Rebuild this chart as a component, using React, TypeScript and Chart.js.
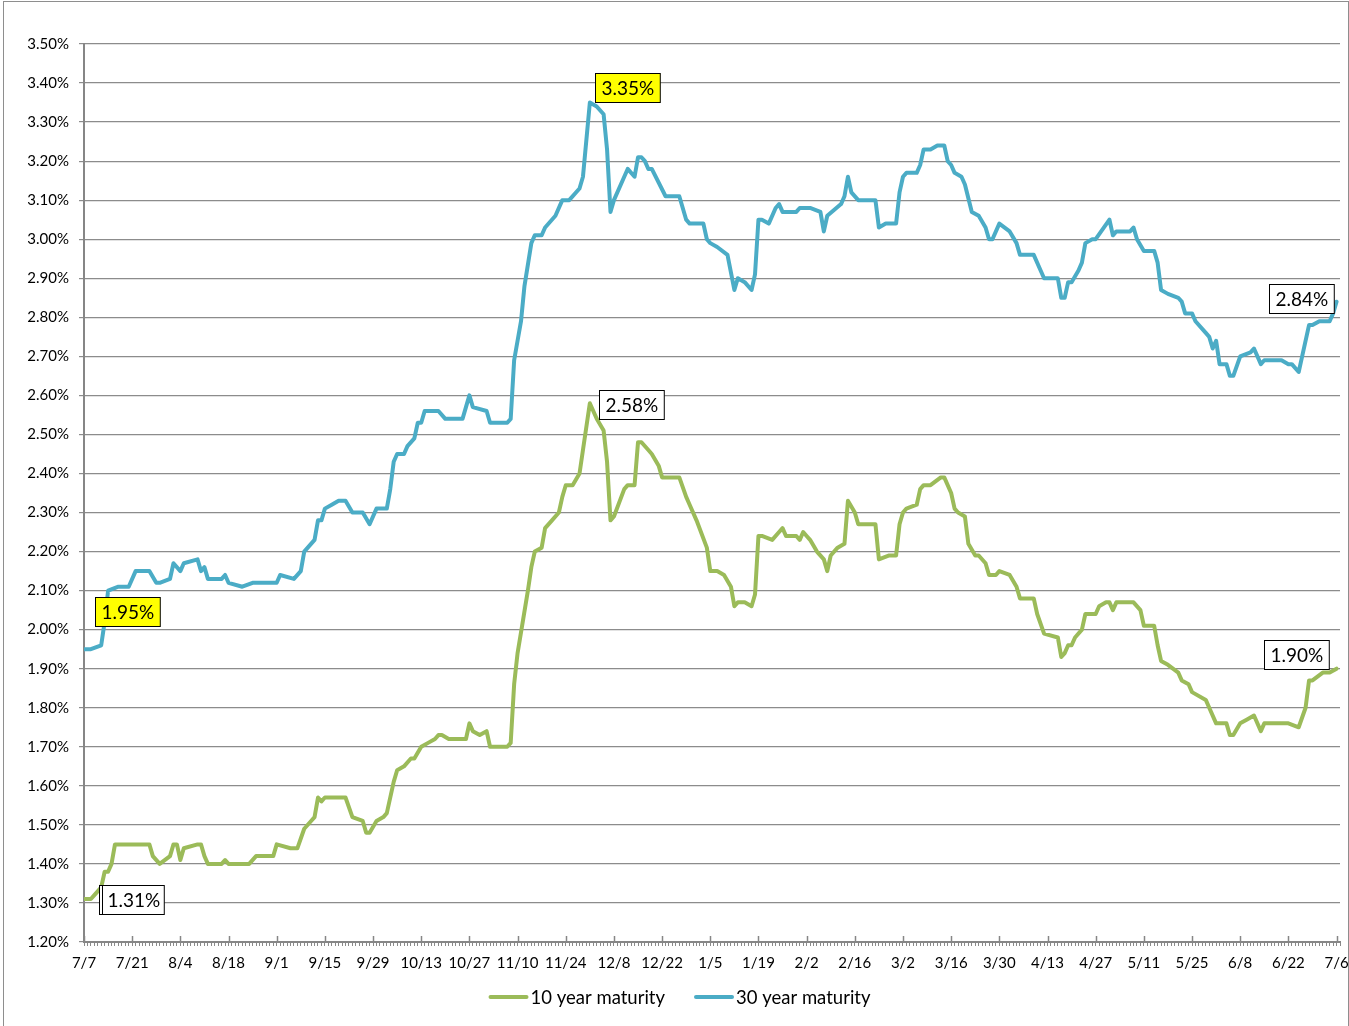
import React, { useEffect, useRef } from 'react';
import { Chart, registerables } from 'chart.js';

Chart.register(...registerables);

// x axis: day index from 7/7; major label every 14 days
const xTickLabels = ['7/7', '7/21', '8/4', '8/18', '9/1', '9/15', '9/29', '10/13', '10/27', '11/10', '11/24', '12/8', '12/22', '1/5', '1/19', '2/2', '2/16', '3/2', '3/16', '3/30', '4/13', '4/27', '5/11', '5/25', '6/8', '6/22', '7/6'];
const yTickValues = [1.2, 1.3, 1.4, 1.5, 1.6, 1.7, 1.8, 1.9, 2.0, 2.1, 2.2, 2.3, 2.4, 2.5, 2.6, 2.7, 2.8, 2.9, 3.0, 3.1, 3.2, 3.3, 3.4, 3.5];

const days10 = [0, 2, 3, 5, 6, 7, 8, 9, 19, 20, 22, 25, 26, 27, 28, 29, 33, 34, 35, 36, 40, 41, 42, 48, 50, 55, 56, 60, 62, 64, 66, 67, 68, 69, 70, 76, 78, 81, 82, 83, 85, 87, 88, 90, 91, 93, 95, 96, 98, 100, 102, 103, 104, 106, 111, 112, 113, 115, 117, 118, 123, 124, 125, 126, 129, 130, 131, 133, 134, 136, 138, 139, 140, 142, 144, 145, 147, 149, 151, 152, 153, 154, 157, 158, 160, 161, 162, 164, 165, 167, 168, 173, 175, 176, 178, 181, 182, 184, 186, 188, 189, 190, 192, 194, 195, 196, 197, 200, 202, 203, 204, 207, 208, 209, 210, 211, 213, 215, 216, 217, 219, 221, 222, 224, 225, 230, 231, 234, 236, 237, 238, 239, 242, 243, 244, 246, 249, 250, 252, 253, 254, 256, 257, 259, 260, 262, 263, 265, 266, 269, 271, 272, 276, 277, 279, 283, 284, 285, 286, 287, 288, 290, 291, 294, 295, 297, 298, 299, 300, 305, 307, 308, 311, 312, 313, 315, 318, 319, 321, 322, 326, 327, 329, 332, 333, 334, 336, 338, 340, 342, 343, 350, 353, 355, 356, 357, 360, 362, 364];
const vals10 = [1.31, 1.31, 1.32, 1.34, 1.38, 1.38, 1.40, 1.45, 1.45, 1.42, 1.40, 1.42, 1.45, 1.45, 1.41, 1.44, 1.45, 1.45, 1.42, 1.40, 1.40, 1.41, 1.40, 1.40, 1.42, 1.42, 1.45, 1.44, 1.44, 1.49, 1.51, 1.52, 1.57, 1.56, 1.57, 1.57, 1.52, 1.51, 1.48, 1.48, 1.51, 1.52, 1.53, 1.61, 1.64, 1.65, 1.67, 1.67, 1.70, 1.71, 1.72, 1.73, 1.73, 1.72, 1.72, 1.76, 1.74, 1.73, 1.74, 1.70, 1.70, 1.71, 1.86, 1.94, 2.10, 2.16, 2.20, 2.21, 2.26, 2.28, 2.30, 2.34, 2.37, 2.37, 2.40, 2.46, 2.58, 2.54, 2.51, 2.43, 2.28, 2.29, 2.36, 2.37, 2.37, 2.48, 2.48, 2.46, 2.45, 2.42, 2.39, 2.39, 2.34, 2.32, 2.28, 2.21, 2.15, 2.15, 2.14, 2.11, 2.06, 2.07, 2.07, 2.06, 2.09, 2.24, 2.24, 2.23, 2.25, 2.26, 2.24, 2.24, 2.23, 2.25, 2.24, 2.23, 2.20, 2.18, 2.15, 2.19, 2.21, 2.22, 2.33, 2.30, 2.27, 2.27, 2.18, 2.19, 2.19, 2.27, 2.30, 2.31, 2.32, 2.36, 2.37, 2.37, 2.39, 2.39, 2.35, 2.31, 2.30, 2.29, 2.22, 2.19, 2.19, 2.17, 2.14, 2.14, 2.15, 2.14, 2.11, 2.08, 2.08, 2.04, 1.99, 1.98, 1.93, 1.94, 1.96, 1.96, 1.98, 2.00, 2.04, 2.04, 2.06, 2.07, 2.07, 2.05, 2.07, 2.07, 2.05, 2.01, 2.01, 1.96, 1.92, 1.91, 1.89, 1.87, 1.86, 1.84, 1.82, 1.80, 1.76, 1.76, 1.73, 1.73, 1.76, 1.77, 1.78, 1.74, 1.76, 1.76, 1.75, 1.80, 1.87, 1.87, 1.89, 1.89, 1.90];

const days30 = [0, 2, 5, 6, 7, 10, 13, 15, 19, 21, 22, 25, 26, 28, 29, 33, 34, 35, 36, 40, 41, 42, 46, 49, 56, 57, 61, 63, 64, 67, 68, 69, 70, 72, 74, 76, 78, 81, 83, 85, 88, 89, 90, 91, 93, 94, 96, 97, 98, 99, 103, 105, 110, 111, 112, 113, 117, 118, 123, 124, 125, 127, 128, 130, 131, 133, 134, 137, 139, 141, 144, 145, 147, 149, 151, 152, 153, 154, 157, 158, 160, 161, 162, 163, 164, 165, 169, 173, 175, 176, 180, 181, 182, 184, 187, 189, 190, 192, 194, 195, 196, 197, 199, 201, 202, 203, 207, 208, 211, 214, 215, 216, 220, 221, 222, 223, 225, 230, 231, 233, 236, 237, 238, 239, 242, 243, 244, 246, 248, 250, 251, 252, 253, 255, 256, 258, 260, 262, 263, 264, 266, 269, 271, 272, 276, 278, 279, 283, 284, 285, 286, 287, 289, 290, 291, 293, 294, 298, 299, 300, 304, 305, 306, 308, 311, 312, 313, 315, 318, 319, 320, 322, 323, 326, 327, 328, 329, 330, 332, 333, 334, 336, 339, 340, 342, 343, 348, 350, 351, 353, 354, 356, 357, 359, 362, 363, 364];
const vals30 = [1.95, 1.95, 1.96, 2.02, 2.10, 2.11, 2.11, 2.15, 2.15, 2.12, 2.12, 2.13, 2.17, 2.15, 2.17, 2.18, 2.15, 2.16, 2.13, 2.13, 2.14, 2.12, 2.11, 2.12, 2.12, 2.14, 2.13, 2.15, 2.20, 2.23, 2.28, 2.28, 2.31, 2.32, 2.33, 2.33, 2.30, 2.30, 2.27, 2.31, 2.31, 2.36, 2.43, 2.45, 2.45, 2.47, 2.49, 2.53, 2.53, 2.56, 2.56, 2.54, 2.54, 2.57, 2.60, 2.57, 2.56, 2.53, 2.53, 2.54, 2.69, 2.79, 2.88, 2.99, 3.01, 3.01, 3.03, 3.06, 3.10, 3.10, 3.13, 3.16, 3.35, 3.34, 3.32, 3.23, 3.07, 3.10, 3.16, 3.18, 3.16, 3.21, 3.21, 3.20, 3.18, 3.18, 3.11, 3.11, 3.05, 3.04, 3.04, 3.00, 2.99, 2.98, 2.96, 2.87, 2.90, 2.89, 2.87, 2.91, 3.05, 3.05, 3.04, 3.08, 3.09, 3.07, 3.07, 3.08, 3.08, 3.07, 3.02, 3.06, 3.09, 3.11, 3.16, 3.12, 3.10, 3.10, 3.03, 3.04, 3.04, 3.12, 3.16, 3.17, 3.17, 3.19, 3.23, 3.23, 3.24, 3.24, 3.20, 3.19, 3.17, 3.16, 3.14, 3.07, 3.06, 3.03, 3.00, 3.00, 3.04, 3.02, 2.99, 2.96, 2.96, 2.92, 2.90, 2.90, 2.85, 2.85, 2.89, 2.89, 2.92, 2.94, 2.99, 3.00, 3.00, 3.05, 3.01, 3.02, 3.02, 3.03, 3.00, 2.97, 2.97, 2.94, 2.87, 2.86, 2.85, 2.84, 2.81, 2.81, 2.79, 2.76, 2.75, 2.72, 2.74, 2.68, 2.68, 2.65, 2.65, 2.70, 2.71, 2.72, 2.68, 2.69, 2.69, 2.68, 2.68, 2.66, 2.70, 2.78, 2.78, 2.79, 2.79, 2.81, 2.84];

const seriesNames = ['10 year maturity', '30 year maturity'];
const GREEN = '#9BBB59';
const BLUE = '#4BACC6';
const FONT = 'Lato, "Liberation Sans", sans-serif';

// callouts: dataset index, point index ('last' = final), offset, background
const callouts = [
  { ds: 1, idx: 'first', dx: 43, dy: -38, bg: '#FFFF00', doubleLeft: false },
  { ds: 0, idx: 'first', dx: 47, dy: 0, bg: '#FFFFFF', doubleLeft: true },
  { ds: 1, idx: 'max', dx: 38, dy: -15, bg: '#FFFF00', doubleLeft: false },
  { ds: 0, idx: 'max', dx: 42, dy: 1, bg: '#FFFFFF', doubleLeft: false },
  { ds: 1, idx: 'last', dx: -35, dy: -3, bg: '#FFFFFF', doubleLeft: false },
  { ds: 0, idx: 'last', dx: -40, dy: -14, bg: '#FFFFFF', doubleLeft: false },
];

const extrasPlugin = {
  id: 'extras',
  afterDatasetsDraw(chart: any) {
    const ctx = chart.ctx;
    const area = chart.chartArea;
    const xs = chart.scales.x;
    // major tick marks pointing up inside plot
    ctx.save();
    ctx.strokeStyle = '#868686';
    ctx.lineWidth = 1.5;
    xTickLabels.forEach((_, i) => {
      const px = Math.round(xs.getPixelForValue(i * 14)) + 0.5;
      ctx.beginPath();
      ctx.moveTo(px, area.bottom);
      ctx.lineTo(px, area.bottom - 6);
      ctx.stroke();
    });
    ctx.restore();

    // callouts
    ctx.save();
    ctx.font = `19px ${FONT}`;
    callouts.forEach((c) => {
      const meta = chart.getDatasetMeta(c.ds);
      const vals = chart.data.datasets[c.ds].data.map((p: any) => p.y);
      let i = 0;
      if (c.idx === 'last') i = vals.length - 1;
      else if (c.idx === 'max') i = vals.indexOf(Math.max(...vals));
      const el = meta.data[i];
      const text = vals[i].toFixed(2) + '%';
      const w = ctx.measureText(text).width + 12;
      const h = 29;
      const cx = el.x + c.dx;
      const cy = el.y + c.dy;
      const l = Math.round(cx - w / 2) + 0.5;
      const t = Math.round(cy - h / 2) + 0.5;
      ctx.fillStyle = c.bg;
      ctx.fillRect(l, t, w, h);
      ctx.strokeStyle = '#000';
      ctx.lineWidth = 1;
      ctx.strokeRect(l, t, w, h);
      if (c.doubleLeft) {
        ctx.beginPath();
        ctx.moveTo(l + 3, t);
        ctx.lineTo(l + 3, t + h);
        ctx.stroke();
      }
      ctx.fillStyle = '#000';
      ctx.textAlign = 'center';
      ctx.textBaseline = 'middle';
      ctx.fillText(text, l + w / 2 + (c.doubleLeft ? 2 : 0), t + h / 2 + 1);
    });
    ctx.restore();

    // legend
    ctx.save();
    ctx.font = `18.5px ${FONT}`;
    const lineW = 40;
    const gapText = 2;
    const gapItems = 29;
    const widths = seriesNames.map((n) => lineW + gapText + ctx.measureText(n).width);
    const total = widths[0] + widths[1] + gapItems;
    let x = chart.width / 2 + 5 - total / 2;
    const y = 997;
    const colors = [GREEN, BLUE];
    seriesNames.forEach((n, k) => {
      ctx.strokeStyle = colors[k];
      ctx.lineWidth = 4;
      ctx.lineCap = 'round';
      ctx.beginPath();
      ctx.moveTo(x + 2, y);
      ctx.lineTo(x + lineW - 2, y);
      ctx.stroke();
      ctx.fillStyle = '#000';
      ctx.textAlign = 'left';
      ctx.textBaseline = 'middle';
      ctx.fillText(n, x + lineW + gapText, y + 1);
      x += widths[k] + gapItems;
    });
    ctx.restore();
  },
};

export default function App() {
  const ref = useRef<HTMLCanvasElement>(null);
  useEffect(() => {
    const canvas = ref.current;
    if (!canvas) return;
    const mk = (days: number[], vals: number[]) => days.map((d, i) => ({ x: d, y: vals[i] }));
    const chart = new Chart(canvas, {
      type: 'line',
      data: {
        datasets: [
          {
            label: seriesNames[0],
            data: mk(days10, vals10),
            borderColor: GREEN,
            backgroundColor: GREEN,
            borderWidth: 4,
            pointRadius: 0,
            tension: 0,
            borderJoinStyle: 'round',
            borderCapStyle: 'round',
          },
          {
            label: seriesNames[1],
            data: mk(days30, vals30),
            borderColor: BLUE,
            backgroundColor: BLUE,
            borderWidth: 4,
            pointRadius: 0,
            tension: 0,
            borderJoinStyle: 'round',
            borderCapStyle: 'round',
          },
        ],
      },
      options: {
        animation: false,
        responsive: false,
        devicePixelRatio: 1,
        layout: { padding: { top: 44, right: 9, left: 0, bottom: 54 } },
        plugins: { legend: { display: false }, tooltip: { enabled: false } },
        scales: {
          x: {
            type: 'linear',
            min: 0,
            max: 365,
            afterBuildTicks: (s: any) => {
              s.ticks = Array.from({ length: 366 }, (_, i) => ({ value: i }));
            },
            afterFit: (s: any) => {
              s.height = 30;
            },
            ticks: {
              autoSkip: false,
              maxRotation: 0,
              minRotation: 0,
              padding: 8,
              color: '#000',
              font: { family: FONT, size: 15 },
              callback: (v: any) => (Number(v) % 14 === 0 ? xTickLabels[Number(v) / 14] : ''),
            },
            grid: { drawOnChartArea: false, drawTicks: true, tickLength: 4, color: '#8a8a8a', lineWidth: 1 },
            border: { color: '#868686', width: 2 },
          },
          y: {
            min: 1.2,
            max: 3.5,
            afterBuildTicks: (s: any) => {
              s.ticks = yTickValues.map((v) => ({ value: v }));
            },
            afterFit: (s: any) => {
              s.width = 84;
            },
            ticks: {
              padding: 10,
              color: '#000',
              font: { family: FONT, size: 15 },
              callback: (v: any) => Number(v).toFixed(2) + '%',
            },
            grid: { color: '#8c8c8c', lineWidth: 1.2, tickLength: 5 },
            border: { color: '#868686', width: 2 },
          },
        },
      },
      plugins: [extrasPlugin],
    } as any);
    return () => chart.destroy();
  }, []);

  return (
    <div style={{ position: 'absolute', left: 0, top: 0, width: 1349, height: 1026, background: '#fff', overflow: 'hidden' }}>
      <canvas ref={ref} width={1349} height={1026} style={{ width: 1349, height: 1026, display: 'block' }} />
      <div
        style={{
          position: 'absolute',
          left: 3,
          top: 1,
          width: 1346,
          height: 1040,
          borderLeft: '1px solid #8e8e8e',
          borderRight: '1px solid #8e8e8e',
          borderTop: '1px solid #8e8e8e',
          boxSizing: 'border-box',
          pointerEvents: 'none',
        }}
      />
    </div>
  );
}
